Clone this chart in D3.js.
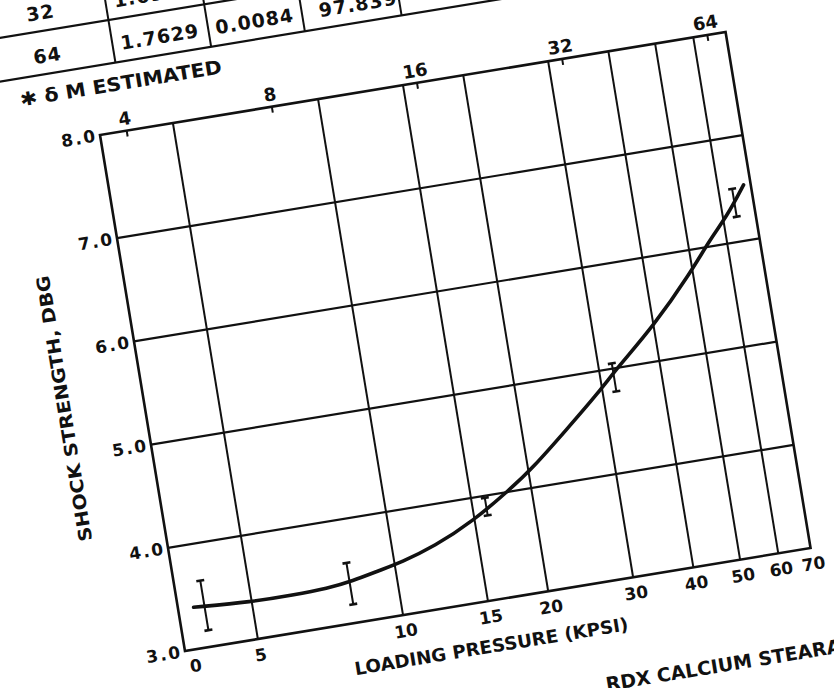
<!DOCTYPE html>
<html>
<head>
<meta charset="UTF-8">
<title>Shock strength vs loading pressure</title>
<script src="https://cdnjs.cloudflare.com/ajax/libs/d3/7.8.5/d3.min.js"></script>
<style>
  html, body { margin: 0; padding: 0; background: #fff; overflow: hidden; }
  text { font-family: "DejaVu Sans", sans-serif; font-weight: bold; fill: #111; }
</style>
</head>
<body>
<script type="text/javascript">
// values
var pressure  = [4, 8, 16, 32, 64];
var shockMean = [3.40, 3.38, 3.89, 4.92, 6.37];
var shockLow  = [3.16, 3.18, 3.81, 4.78, 6.24];
var shockHigh = [3.64, 3.58, 3.98, 5.05, 6.51];

// the hand drawn fit curve
var curveP = [3.8, 5.0, 6.1, 7.2, 8.1, 9.3, 10.3, 12.2, 14.9, 18.1, 20.5, 24.7, 29.5, 32.7, 40.0, 49.4, 55.6, 61.2, 67.7];
var curveS = [3.40, 3.36, 3.36, 3.37, 3.40, 3.46, 3.50, 3.60, 3.78, 4.02, 4.19, 4.50, 4.80, 5.00, 5.34, 5.78, 6.07, 6.26, 6.53];

var yTicks = [3, 4, 5, 6, 7, 8];
var bottomTicks = [5, 10, 15, 20, 30, 40, 50, 60];
var bottomLabels = ["0", "5", "10", "15", "20", "30", "40", "50", "60", "70"];
var topTicks = [4, 8, 16, 32, 64];

// bit of the table above the graph
var tableRows = [
  ["32", "1.6950"],
  ["64", "1.7629", "0.0084", "97.839"]
];

(function(){
    var W = 634, H = 523;

    var x = d3.scaleLog().domain([3.53, 70]).range([0, W]);
    var y = d3.scaleLinear().domain([3, 8]).range([H, 0]);
    var bottomVals = [x.domain()[0]].concat(bottomTicks, [x.domain()[1]]);

    var svg = d3.select("body").append("svg")
        .attr("width", 834)
        .attr("height", 688);

    // whole sheet sits tilted on the scanner
    var g = svg.append("g")
        .attr("transform", "translate(100,135) rotate(-9.35)");

    // table fragment
    var rowTop = [-155, -112], rowH = 43, colEdge = [27, 124, 219, 317, 415];
    var colMid = [-39, 75, 171, 276, 366];
    [-155, -112, -69].forEach(function(v){
        g.append("line").attr("x1", -200).attr("x2", 800).attr("y1", v).attr("y2", v)
            .attr("stroke", "#111").attr("stroke-width", 2.2);
    });
    colEdge.forEach(function(u){
        g.append("line").attr("x1", u).attr("x2", u).attr("y1", -200).attr("y2", -69)
            .attr("stroke", "#111").attr("stroke-width", 2);
    });
    tableRows.forEach(function(row, r){
        g.selectAll(null).data(row).enter().append("text")
            .attr("x", function(d, i){ return colMid[i]; })
            .attr("y", rowTop[r] + rowH/2 + 3)
            .attr("text-anchor", "middle")
            .attr("dominant-baseline", "central")
            .style("font-size", "19px")
            .style("letter-spacing", "1px")
            .text(function(d){ return d; });
    });
    g.append("text")
        .attr("x", -73).attr("y", -48)
        .attr("dominant-baseline", "central")
        .attr("textLength", 204).attr("lengthAdjust", "spacingAndGlyphs")
        .style("font-size", "19px")
        .text("\u2731 \u03b4 M ESTIMATED");

    // grid
    g.selectAll(".vgrid").data(bottomTicks).enter().append("line")
        .attr("x1", x).attr("x2", x).attr("y1", 0).attr("y2", H)
        .attr("stroke", "#111").attr("stroke-width", 2);
    g.selectAll(".hgrid").data(yTicks.slice(1, -1)).enter().append("line")
        .attr("x1", 0).attr("x2", W).attr("y1", y).attr("y2", y)
        .attr("stroke", "#111").attr("stroke-width", 2.2);
    g.append("rect")
        .attr("width", W).attr("height", H)
        .attr("fill", "none").attr("stroke", "#111").attr("stroke-width", 2.6);

    // axes (labels only, frame drawn above)
    var bottom = g.append("g").attr("transform", "translate(0," + H + ")")
        .call(d3.axisBottom(x).tickValues(bottomVals).tickSize(0).tickPadding(10)
            .tickFormat(function(d, i){ return bottomLabels[i]; }));
    var top = g.append("g")
        .call(d3.axisTop(x).tickValues(topTicks).tickSizeInner(-6).tickSizeOuter(0).tickPadding(6)
            .tickFormat(d3.format("d")));
    var left = g.append("g")
        .call(d3.axisLeft(y).tickValues(yTicks).tickSize(0).tickPadding(3)
            .tickFormat(d3.format(".1f")));
    [bottom, top, left].forEach(function(a){
        a.attr("font-family", null).attr("font-size", null);
        a.select(".domain").remove();
        a.selectAll("line").attr("stroke", "#111").attr("stroke-width", 2);
        a.selectAll("text").style("font-size", "17px").attr("fill", "#111");
    });
    left.selectAll("text").style("letter-spacing", "2px");
    top.selectAll("text").style("font-size", "18px");
    bottom.select(".tick text").attr("dx", 8);

    // axis titles
    g.append("text")
        .attr("transform", "translate(-80,264) rotate(-90)")
        .attr("text-anchor", "middle").attr("dominant-baseline", "central")
        .attr("textLength", 269).attr("lengthAdjust", "spacingAndGlyphs")
        .style("font-size", "18px")
        .text("SHOCK STRENGTH, DBG");
    g.append("text")
        .attr("x", 303).attr("y", 568)
        .attr("text-anchor", "middle").attr("dominant-baseline", "central")
        .attr("textLength", 277).attr("lengthAdjust", "spacingAndGlyphs")
        .style("font-size", "18px")
        .text("LOADING PRESSURE (KPSI)");
    g.append("text")
        .attr("x", 410).attr("y", 624)
        .attr("dominant-baseline", "central")
        .style("font-size", "19px")
        .text("RDX CALCIUM STEARATE");

    // fit curve
    var line = d3.line()
        .x(function(d){ return x(d[0]); })
        .y(function(d){ return y(d[1]); })
        .curve(d3.curveBasis);
    g.append("path")
        .datum(d3.zip(curveP, curveS))
        .attr("d", line)
        .attr("fill", "none").attr("stroke", "#111").attr("stroke-width", 3.6)
        .attr("stroke-linecap", "round");

    // error bars
    var bars = g.selectAll(".bar").data(pressure).enter().append("g")
        .attr("transform", function(d){ return "translate(" + x(d) + ",0)"; });
    bars.append("line")
        .attr("y1", function(d, i){ return y(shockLow[i]); })
        .attr("y2", function(d, i){ return y(shockHigh[i]); })
        .attr("stroke", "#111").attr("stroke-width", 2);
    bars.selectAll(".cap")
        .data(function(d, i){ return [shockLow[i], shockHigh[i]]; })
        .enter().append("line")
        .attr("x1", -4).attr("x2", 4)
        .attr("y1", y).attr("y2", y)
        .attr("stroke", "#111").attr("stroke-width", 2.6);
})();
</script>
</body>
</html>
